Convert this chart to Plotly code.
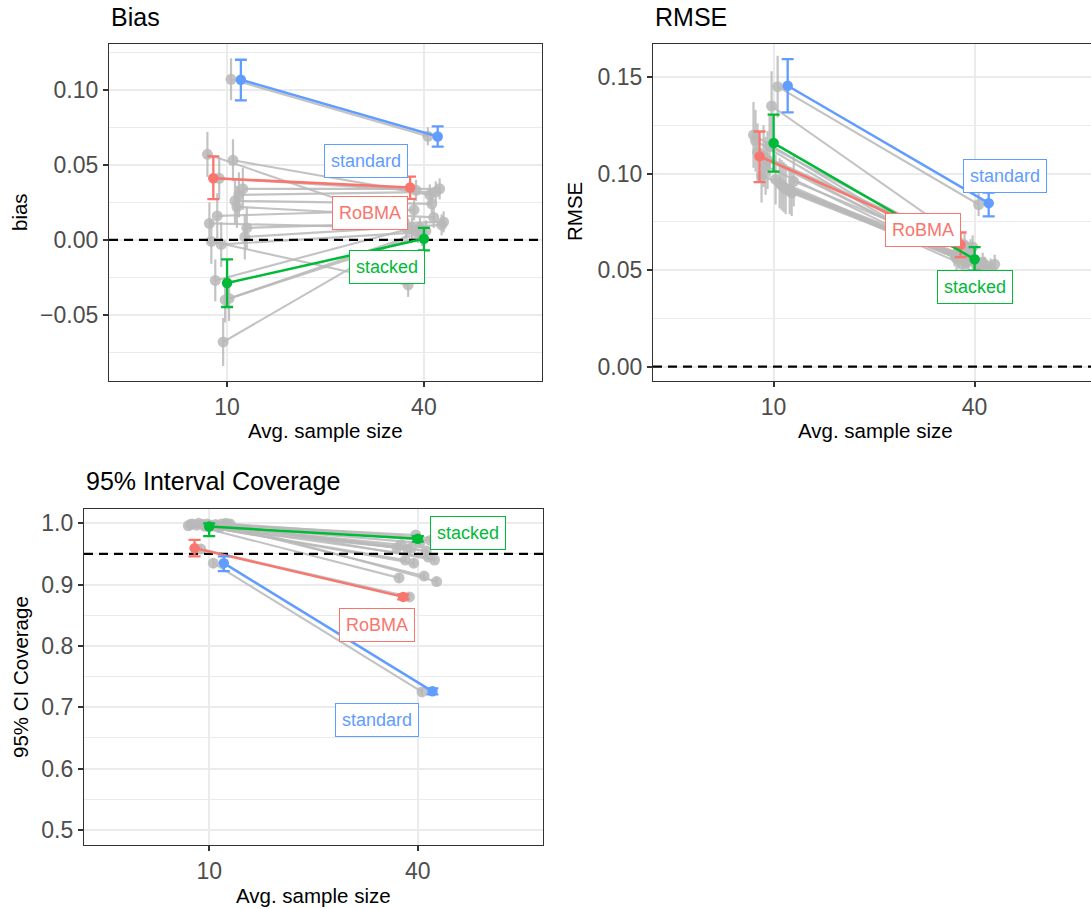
import plotly.graph_objects as go

W, H = 1091, 909
FONT = "Liberation Sans"

# ---------------- data ----------------
sample_sizes = ["10", "40"]
methods = ["RoBMA", "standard", "stacked"]
method_colors = {"RoBMA": "#F8766D", "standard": "#619CFF", "stacked": "#00BA38"}

# highlighted methods: [N=10, N=40]
bias_mean = {"RoBMA": [0.0411, 0.0349], "standard": [0.1067, 0.0689], "stacked": [-0.0287, 0.0007]}
bias_lo = {"RoBMA": [0.0271, 0.0273], "standard": [0.0929, 0.0622], "stacked": [-0.0447, -0.0070]}
bias_hi = {"RoBMA": [0.0556, 0.0422], "standard": [0.1200, 0.0756], "stacked": [-0.0130, 0.0080]}

rmse_mean = {"RoBMA": [0.1089, 0.0631], "standard": [0.1455, 0.0847], "stacked": [0.1158, 0.0556]}
rmse_lo = {"RoBMA": [0.0956, 0.0567], "standard": [0.1317, 0.0778], "stacked": [0.1010, 0.0498]}
rmse_hi = {"RoBMA": [0.1218, 0.0695], "standard": [0.1593, 0.0902], "stacked": [0.1305, 0.0619]}

cov_mean = {"RoBMA": [0.9595, 0.8800], "standard": [0.9350, 0.7260], "stacked": [0.9946, 0.9746]}
cov_lo = {"RoBMA": [0.9460, 0.8760], "standard": [0.9220, 0.7210], "stacked": [0.9790, 0.9700]}
cov_hi = {"RoBMA": [0.9730, 0.8840], "standard": [0.9460, 0.7310], "stacked": [1.0000, 0.9790]}

# reference values (dashed lines)
bias_target = 0.0
rmse_target = 0.0
cov_target = 0.95

# other (grey) methods, in dodge order
bias_grey_10 = [0.057, 0.011, -0.001, -0.027, 0.016, 0.041, -0.003, -0.068, -0.040,
                -0.039, 0.107, 0.053, 0.026, 0.022, 0.030, 0.034, 0.002, 0.008]
bias_grey_40 = [0.012, 0.008, -0.030, 0.008, 0.020, 0.033, 0.005, 0.008, 0.003,
                0.006, 0.069, 0.030, 0.024, 0.015, 0.032, 0.034, 0.010, 0.012]
bias_grey_se_10 = [0.015, 0.014, 0.015, 0.014, 0.015, 0.014, 0.015, 0.016, 0.015,
                   0.015, 0.014, 0.014, 0.015, 0.014, 0.015, 0.014, 0.015, 0.014]
bias_grey_se_40 = [0.007, 0.007, 0.008, 0.007, 0.007, 0.007, 0.007, 0.007, 0.007,
                   0.007, 0.006, 0.007, 0.007, 0.007, 0.007, 0.007, 0.007, 0.007]

rmse_grey_10 = [0.120, 0.117, 0.111, 0.099, 0.109, 0.104, 0.107, 0.114, 0.135,
                0.097, 0.145, 0.095, 0.094, 0.093, 0.092, 0.091, 0.090, 0.096]
rmse_grey_40 = [0.058, 0.056, 0.057, 0.053, 0.063, 0.054, 0.055, 0.060, 0.062,
                0.052, 0.084, 0.051, 0.054, 0.052, 0.050, 0.051, 0.049, 0.053]
rmse_grey_se_10 = [0.017, 0.016, 0.015, 0.014, 0.016, 0.015, 0.015, 0.016, 0.018,
                   0.013, 0.016, 0.013, 0.013, 0.013, 0.013, 0.012, 0.012, 0.013]
rmse_grey_se_40 = [0.006, 0.006, 0.006, 0.005, 0.006, 0.006, 0.006, 0.006, 0.006,
                   0.005, 0.006, 0.005, 0.005, 0.005, 0.005, 0.005, 0.005, 0.005]

cov_grey_10 = [0.996, 0.998, 0.999, 0.997, 1.000, 0.958, 0.998, 0.995, 0.999,
               0.997, 0.935, 0.998, 0.996, 0.993, 0.999, 1.000, 0.998, 0.999]
cov_grey_40 = [0.960, 0.911, 0.965, 0.940, 0.958, 0.880, 0.960, 0.935, 0.981,
               0.968, 0.725, 0.914, 0.955, 0.945, 0.972, 0.940, 0.905, 0.975]
cov_grey_se_10 = [0.003, 0.002, 0.002, 0.003, 0.001, 0.006, 0.002, 0.003, 0.002,
                  0.003, 0.008, 0.002, 0.003, 0.004, 0.002, 0.001, 0.002, 0.002]
cov_grey_se_40 = [0.005, 0.006, 0.005, 0.005, 0.005, 0.005, 0.005, 0.006, 0.004,
                  0.005, 0.006, 0.006, 0.005, 0.005, 0.005, 0.005, 0.006, 0.005]

# ---------------- dodge positions ----------------
N_SLOTS = 21
DODGE_STEP = 0.01
highlight_slot = {"RoBMA": 3, "stacked": 10, "standard": 17}
grey_slots = [s for s in range(N_SLOTS) if s not in highlight_slot.values()]
X_RANGE = [0.4, 2.6]


def slot_offset(s):
    return (s - (N_SLOTS - 1) / 2) * DODGE_STEP


GREY = "rgba(185,185,185,0.85)"

fig = go.Figure()


def add_panel(ax, g10, g40, se10, se40, mean, lo, hi, target):
    xa = "x" if ax == 1 else f"x{ax}"
    ya = "y" if ax == 1 else f"y{ax}"
    for i, s in enumerate(grey_slots):
        off = slot_offset(s)
        fig.add_trace(go.Scatter(
            x=[1 + off, 2 + off], y=[g10[i], g40[i]], xaxis=xa, yaxis=ya,
            mode="lines+markers",
            line=dict(color=GREY, width=2.1),
            marker=dict(color=GREY, size=11),
            error_y=dict(type="data", symmetric=True, array=[se10[i], se40[i]],
                         color=GREY, thickness=2.2, width=0),
            showlegend=False, hoverinfo="skip"))
    # dashed reference line
    fig.add_trace(go.Scatter(x=X_RANGE, y=[target, target], xaxis=xa, yaxis=ya, mode="lines",
                             line=dict(color="black", width=2.3, dash="9px,6px"),
                             showlegend=False, hoverinfo="skip", cliponaxis=False))
    for m in methods:
        off = slot_offset(highlight_slot[m])
        ys = mean[m]
        fig.add_trace(go.Scatter(
            x=[1 + off, 2 + off], y=ys, xaxis=xa, yaxis=ya,
            mode="lines+markers",
            line=dict(color=method_colors[m], width=2.5),
            marker=dict(color=method_colors[m], size=10.5),
            error_y=dict(type="data", symmetric=False,
                         array=[hi[m][k] - ys[k] for k in range(2)],
                         arrayminus=[ys[k] - lo[m][k] for k in range(2)],
                         color=method_colors[m], thickness=2.3, width=6),
            showlegend=False, name=m))


add_panel(1, bias_grey_10, bias_grey_40, bias_grey_se_10, bias_grey_se_40,
          bias_mean, bias_lo, bias_hi, bias_target)
add_panel(2, rmse_grey_10, rmse_grey_40, rmse_grey_se_10, rmse_grey_se_40,
          rmse_mean, rmse_lo, rmse_hi, rmse_target)
add_panel(3, cov_grey_10, cov_grey_40, cov_grey_se_10, cov_grey_se_40,
          cov_mean, cov_lo, cov_hi, cov_target)


def px_x(p):
    return p / W


def px_y(p):
    return 1 - p / H


GRID = "#EBEBEB"
TICKFONT = dict(family=FONT, size=23, color="#4D4D4D")

common_x = dict(tickvals=[1, 2], ticktext=sample_sizes, showgrid=True, gridcolor=GRID, gridwidth=2,
                zeroline=False, ticks="outside", ticklen=5, tickwidth=1.5, tickcolor="#333333",
                tickfont=TICKFONT, showline=True, linecolor="#333333", linewidth=1.3, mirror=True)


def yax(domain, rng, major, labels, minor):
    return dict(domain=domain, range=rng, tickvals=major, ticktext=labels, showgrid=True,
                gridcolor=GRID, gridwidth=2, zeroline=False, ticks="outside", ticklen=5,
                tickwidth=1.5, tickcolor="#333333", tickfont=TICKFONT, showline=True,
                linecolor="#333333", linewidth=1.3, mirror=True,
                minor=dict(tickvals=minor, showgrid=True, gridcolor=GRID, gridwidth=1.2, ticklen=0))


fig.update_layout(
    width=W, height=H, autosize=False,
    margin=dict(l=0, r=0, t=0, b=0),
    paper_bgcolor="white", plot_bgcolor="white",
    font=dict(family=FONT),
    xaxis=dict(common_x, domain=[px_x(109), px_x(542)], range=X_RANGE, anchor="y"),
    yaxis=yax([px_y(381), px_y(44)], [-0.094, 0.1305], [-0.05, 0, 0.05, 0.10],
              ["\u22120.05", "0.00", "0.05", "0.10"], [-0.075, -0.025, 0.025, 0.075, 0.125]),
    xaxis2=dict(common_x, domain=[px_x(653), 1.0], range=[0.4, 2.579], anchor="y2"),
    yaxis2=yax([px_y(381), px_y(44)], [-0.0074, 0.1671], [0, 0.05, 0.10, 0.15],
               ["0.00", "0.05", "0.10", "0.15"], [0.025, 0.075, 0.125]),
    xaxis3=dict(common_x, domain=[px_x(84), px_x(543)], range=X_RANGE, anchor="y3"),
    yaxis3=yax([px_y(845), px_y(509)], [0.4755, 1.0233], [0.5, 0.6, 0.7, 0.8, 0.9, 1.0],
               ["0.5", "0.6", "0.7", "0.8", "0.9", "1.0"], [0.55, 0.65, 0.75, 0.85, 0.95]),
)
fig.layout.yaxis.anchor = "x"
fig.layout.yaxis2.anchor = "x2"
fig.layout.yaxis2.mirror = False
fig.layout.yaxis3.anchor = "x3"

annotations = []
# plot titles
for txt, x, y in [("Bias", 109, 17), ("RMSE", 653, 17), ("95% Interval Coverage", 84, 481)]:
    annotations.append(dict(text=txt, x=px_x(x), y=px_y(y), xref="paper", yref="paper",
                            xanchor="left", yanchor="middle", showarrow=False,
                            font=dict(family=FONT, size=25, color="black")))
# x axis titles
for x, y in [(325.5, 430), (875, 430), (313.5, 895)]:
    annotations.append(dict(text="Avg. sample size", x=px_x(x), y=px_y(y), xref="paper", yref="paper",
                            xanchor="center", yanchor="middle", showarrow=False,
                            font=dict(family=FONT, size=20.5, color="black")))
# y axis titles
for txt, x, y in [("bias", 20, 212), ("RMSE", 575, 212), ("95% CI Coverage", 20, 677)]:
    annotations.append(dict(text=txt, x=px_x(x), y=px_y(y), xref="paper", yref="paper",
                            xanchor="center", yanchor="middle", showarrow=False, textangle=-90,
                            font=dict(family=FONT, size=20.5, color="black")))

# method labels (data coordinates)
label_pos = {
    ("x", "y"): {"standard": (1.706, 0.0527), "RoBMA": (1.726, 0.018), "stacked": (1.812, -0.018)},
    ("x2", "y2"): {"standard": (2.149, 0.0986), "RoBMA": (1.741, 0.0709), "stacked": (2.002, 0.0411)},
    ("x3", "y3"): {"standard": (1.806, 0.679), "RoBMA": (1.806, 0.834), "stacked": (2.239, 0.984)},
}
for (xr, yr), d in label_pos.items():
    for m, (lx, ly) in d.items():
        annotations.append(dict(text=m, x=lx, y=ly, xref=xr, yref=yr, showarrow=False,
                                xanchor="center", yanchor="middle",
                                font=dict(family=FONT, size=18, color=method_colors[m]),
                                bgcolor="white", bordercolor=method_colors[m], borderwidth=1,
                                borderpad=6))
fig.update_layout(annotations=annotations)

fig.write_html("out.html")
